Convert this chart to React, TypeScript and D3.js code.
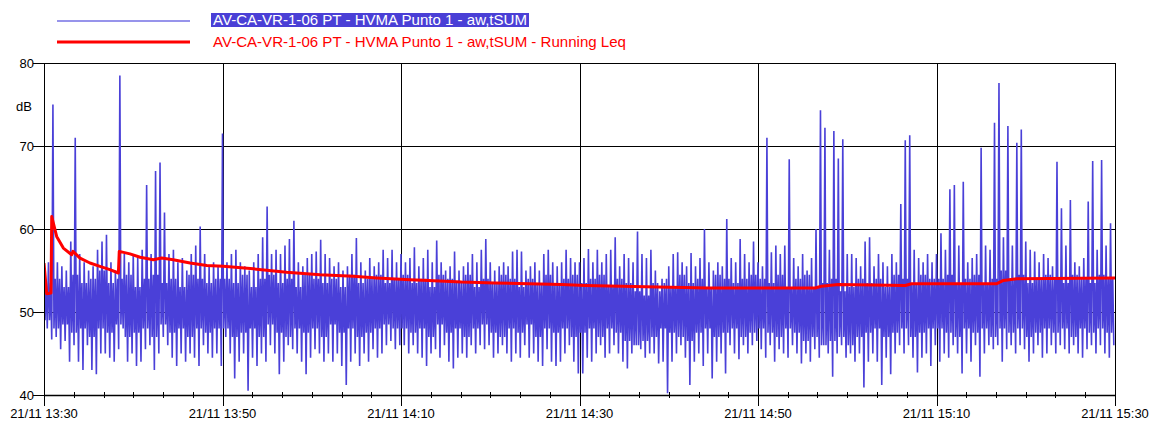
import React from 'react';
import * as d3 from 'd3';

// measurement start, one slot every 30 s
const startTime = new Date(2021, 10, 21, 13, 30, 0);
const slotSeconds = 30;

const seriesNames = [
  'AV-CA-VR-1-06 PT - HVMA Punto 1 - aw,tSUM',
  'AV-CA-VR-1-06 PT - HVMA Punto 1 - aw,tSUM - Running Leq',
];

// highest value in each 30 s slot (dB)
const peakValues = [
  57, 56, 75, 56, 55.5, 55, 58.5, 71, 57, 56,
  55, 55.5, 57.5, 58.5, 59.3, 56, 55, 78.5, 57, 56,
  57, 56.5, 57.5, 65.3, 57, 67, 68, 62, 57, 57.5,
  56, 56.5, 55, 57, 58, 60.3, 57, 55.5, 56, 55.5,
  71.5, 56, 57, 57.5, 56, 55.5, 55, 56, 57, 59,
  62.7, 57, 57.5, 57, 58, 58.8, 61, 56, 55.5, 56.5,
  57, 57.3, 58.7, 57, 56.5, 55.5, 56, 55, 55.5, 57,
  58.9, 56, 55, 56.5, 55.5, 56, 57.5, 56.5, 57.5, 56,
  57, 56, 56.5, 57.8, 55.5, 56.5, 57.5, 56, 58.6, 56,
  55, 55.5, 57.3, 55, 55.5, 56, 57, 56, 57.5, 58.8,
  56, 55, 55.5, 56, 55.5, 57.3, 57.5, 57.3, 55, 55.5,
  56, 55, 57, 57.5, 56, 55.5, 56, 57.5, 56.5, 56,
  56, 56.5, 57.6, 56, 57.5, 56, 57, 57.5, 59, 55.5,
  57, 56.5, 56, 59.7, 57, 56.5, 57.5, 55, 52.5, 53.5,
  55.5, 57, 57.2, 56, 55.5, 57.1, 55.5, 56.5, 60, 56,
  55, 56, 55.5, 61.2, 56.5, 56, 58.8, 57, 56, 58.5,
  56, 55.5, 71, 57.2, 58, 57, 58, 68.4, 56.5, 55.5,
  57, 55, 56.5, 60, 74.3, 72.2, 57.5, 71.8, 68.5, 70.8,
  57, 57, 56.5, 55.5, 58.5, 59, 55.5, 57, 56, 55.5,
  57, 56, 63, 70.7, 71.3, 57.5, 56.5, 56, 57, 56,
  57, 59.5, 57.5, 64.8, 65.3, 58, 65.7, 56, 56.5, 57,
  69.8, 58, 57.5, 72.8, 77.6, 59, 72.4, 58, 70.4, 72,
  58.5, 57.5, 57.3, 56, 57, 56.5, 55.5, 68.1, 62.5, 58,
  63.5, 56, 55.5, 56.5, 63.3, 68.2, 57.5, 68.3, 58, 60.7,
];

// lowest value in each 30 s slot (dB)
const troughValues = [
  48, 46.7, 47, 45.5, 46.5, 44, 46, 44, 43, 46,
  43, 42.5, 45, 45, 44.5, 44, 45.5, 48, 44, 45,
  43.5, 44, 45.5, 46, 43, 45, 47, 46, 44.5, 43.5,
  45, 44, 45, 44.5, 43.5, 46, 45, 44.5, 45, 43.5,
  47, 45, 42, 44, 45, 40.5, 44.5, 43.5, 45, 44,
  46, 45, 42.5, 44, 46, 45.5, 45, 44, 42.5, 44.5,
  45.5, 45, 44, 45, 44, 45, 43.5, 41.2, 44, 45,
  43.5, 45, 44, 45.5, 44.5, 45, 46, 46.5, 45.5, 46,
  46, 45, 46, 45, 44.5, 43.5, 45, 45.5, 44.5, 46,
  44, 43.2, 44.5, 45, 44.5, 46, 45, 46, 45.5, 46,
  44.5, 45, 46, 45, 44, 45, 44.5, 46, 44.5, 45,
  44, 43.5, 45.5, 44, 43.5, 44, 45, 46, 44, 42.6,
  42.6, 44.5, 44, 45, 46, 44.5, 45, 46, 45, 44,
  43.2, 45, 46, 45.5, 44.5, 45, 45, 43.8, 44, 40.2,
  44, 45, 46, 44.5, 41.2, 44, 45, 43.5, 45, 42,
  44, 45, 42.6, 46, 45, 44.3, 46, 45, 46, 46.5,
  45.5, 44.5, 46, 44, 45.5, 45, 44.5, 46, 45, 43.8,
  45, 44, 45.5, 44.5, 46, 45, 42.2, 45, 46, 44.5,
  45, 44, 45, 40.9, 44, 45, 44, 41.2, 44.5, 42.5,
  45, 46, 45, 46, 44.5, 42.7, 44.5, 45, 43.5, 46,
  44, 45, 44.5, 46, 45, 42.6, 45, 44, 46, 42.2,
  45, 46, 45.5, 46, 44, 45.5, 46, 45, 46, 45.5,
  44, 45, 46, 44.5, 45, 46, 45, 46, 45.5, 45,
  46, 45, 44.5, 45.5, 46, 45, 46, 45, 44.5, 46,
];

// upper and lower edge of the dense part of the trace, per minute (dB)
const innerHigh = [
  53.5, 54, 53, 54.5, 53.5, 54, 55, 53.5, 54, 54.5, 53, 54, 54.5, 53.5, 54, 53, 54.5, 54, 53.5, 54,
  54, 53.5, 54.5, 53, 54, 54.5, 53.5, 54, 53, 54.5, 54, 53.5, 54, 53, 54.5, 53.5, 54, 54.5, 53.5, 54,
  54.5, 53.5, 54, 53, 54.5, 54, 53.5, 54.5, 53, 54, 53.5, 54.5, 54, 53, 54, 53.5, 54.5, 53.5, 54, 54.5,
  53.5, 54, 54.5, 53, 54, 53.5, 52.5, 52, 53.5, 54, 53, 54.5, 53.5, 54, 53, 54.5, 54, 53.5, 54, 54.5,
  54, 53.5, 54.5, 53, 54, 54.5, 53, 53.5, 54, 52.5, 53, 54, 53.5, 54, 53, 54.5, 54, 53.5, 54.5, 54,
  54, 54.5, 53.5, 54, 54.5, 53.5, 54, 55, 54, 54.5, 53.5, 54, 54.5, 54, 53.5, 54.5, 54, 53.5, 54.5, 54,
];
const innerLow = [
  49, 48, 48.5, 47.5, 48, 47, 48, 47.5, 48.5, 47, 47.5, 48, 47, 48.5, 47.5, 48, 47, 48, 47.5, 48,
  48, 47, 47.5, 48, 47, 48.5, 47.5, 47, 48, 47.5, 48, 47, 48.5, 47.5, 48, 47, 47.5, 48, 48.5, 48,
  48, 47.5, 48, 47, 48.5, 47.5, 48, 47, 48, 48.5, 47.5, 47, 48, 47.5, 48.5, 47, 48, 47.5, 48, 47,
  47.5, 48, 47, 48, 47.5, 46.5, 46, 46.5, 47, 48, 47.5, 47, 46.5, 47.5, 48, 47, 47.5, 48, 47, 47.5,
  48, 47.5, 47, 48, 47.5, 46.5, 47, 46, 46.5, 47, 46, 47, 47.5, 48, 47, 47.5, 48, 47, 47.5, 48,
  48, 47.5, 47, 48, 47.5, 48, 47, 48, 47.5, 48, 47, 47.5, 48, 47.5, 48, 47, 48, 47.5, 48, 47.5,
];

// running Leq, minutes after start and dB
const leqMinutes = [
  0, 0.3, 0.78, 0.86, 1.42, 2.16, 3.1, 3.25, 4.03, 5.15,
  6.27, 7.39, 8.33, 8.44, 9.64, 10.76, 12.25, 13.19, 14.49, 16.36,
  18.23, 20.09, 23.45, 27.19, 30.92, 34.66, 37.28, 41.0, 43.06, 46.8,
  50.5, 54.3, 58.0, 60.6, 68.8, 74.4, 80.8, 86.4, 87.1, 89.0,
  96.5, 97.2, 101.0, 106.7, 107.5, 109.0, 120,
];
const leqValues = [
  55.9, 52.2, 52.3, 61.5, 59.1, 57.7, 56.9, 57.3, 56.5, 55.9,
  55.5, 55.1, 54.7, 57.3, 57.0, 56.6, 56.3, 56.5, 56.3, 55.9,
  55.6, 55.5, 55.2, 54.8, 54.5, 54.3, 54.1, 53.9, 53.8, 53.6,
  53.5, 53.4, 53.3, 53.2, 53.0, 52.9, 52.9, 52.9, 53.1, 53.3,
  53.2, 53.4, 53.4, 53.4, 53.8, 54.0, 54.1,
];

const yTickValues = [40, 50, 60, 70, 80];
const yGridValues = [50, 60, 70];
const majorTickMinutes = [0, 20, 40, 60, 80, 100, 120];

const blue = '#4a40d8';
const font = '"Liberation Sans", Arial, sans-serif';

type Pt = { t: Date; v: number };

export default function App() {
  const left = 44;
  const right = 1115;
  const top = 63;
  const bottom = 395;

  const endTime = d3.timeMinute.offset(startTime, 120);
  const x = d3.scaleTime().domain([startTime, endTime]).range([left, right]);
  const y = d3.scaleLinear().domain([40, 80]).range([bottom, top]);
  const fmt = d3.timeFormat('%d/%m %H:%M');
  const crisp = (v: number) => Math.round(v) + 0.5;
  const at = (s: number) => d3.timeSecond.offset(startTime, s);

  // each slot: peak, inner low, inner high, trough
  const rawPoints: Pt[] = [];
  peakValues.forEach((p, i) => {
    const s = i * slotSeconds;
    const m = Math.floor(i / 2);
    rawPoints.push({ t: at(s), v: p });
    rawPoints.push({ t: at(s + 7.5), v: innerLow[m] });
    rawPoints.push({ t: at(s + 15), v: innerHigh[m] });
    rawPoints.push({ t: at(s + 22.5), v: troughValues[i] });
  });
  const line = d3
    .line<Pt>()
    .x((d) => x(d.t))
    .y((d) => y(d.v));

  const leqPoints = leqMinutes.map((m, i) => ({ t: at(Math.round(m * 60)), v: leqValues[i] }));

  const majorTicks = majorTickMinutes.map((m) => d3.timeMinute.offset(startTime, m));
  const minorTicks = d3
    .range(0, 7201, 200)
    .filter((s) => s % 1200 !== 0)
    .map((s) => at(s));

  return (
    <div style={{ position: 'absolute', left: 0, top: 0 }}>
      <svg width={1162} height={424} style={{ display: 'block', background: '#fff' }} fontFamily={font}>
        <defs>
          <clipPath id="plot-clip">
            <rect x={left} y={top} width={right - left} height={bottom - top} />
          </clipPath>
        </defs>

        {/* legend */}
        <line x1={57} x2={190} y1={21} y2={21} stroke="#7470e4" strokeWidth={1.5} />
        <rect x={211} y={13} width={318} height={14} fill="#4a3fd6" />
        <text x={213} y={25} fontSize={14.5} fill="#fff" textLength={314} lengthAdjust="spacingAndGlyphs">
          {seriesNames[0]}
        </text>
        <line x1={57} x2={190} y1={42} y2={42} stroke="#ff0000" strokeWidth={3} />
        <text x={213} y={46.5} fontSize={14.5} fill="#ff0000" textLength={413} lengthAdjust="spacingAndGlyphs">
          {seriesNames[1]}
        </text>

        {/* grid */}
        {majorTicks.map((d, i) => (
          <line key={'vg' + i} x1={crisp(x(d))} x2={crisp(x(d))} y1={top} y2={bottom + 11} stroke="#000" />
        ))}
        {yGridValues.map((v) => (
          <line key={'hg' + v} x1={left} x2={right} y1={crisp(y(v))} y2={crisp(y(v))} stroke="#000" />
        ))}

        {/* series */}
        <g clipPath="url(#plot-clip)">
          <path d={line(rawPoints) ?? ''} fill="none" stroke={blue} strokeWidth={1.6} strokeLinejoin="bevel" />
          <path d={line(leqPoints) ?? ''} fill="none" stroke="#ff0000" strokeWidth={3} strokeLinejoin="round" />
        </g>

        {/* frame */}
        <line x1={crisp(left)} x2={crisp(left)} y1={top} y2={bottom + 11} stroke="#000" />
        <line x1={crisp(right)} x2={crisp(right)} y1={top} y2={bottom + 11} stroke="#000" />
        <line x1={left} x2={right} y1={crisp(top)} y2={crisp(top)} stroke="#000" />
        <line x1={left} x2={right} y1={crisp(bottom)} y2={crisp(bottom)} stroke="#000" strokeWidth={1.5} />

        {/* x axis */}
        {minorTicks.map((d, i) => (
          <line key={'mt' + i} x1={crisp(x(d))} x2={crisp(x(d))} y1={bottom - 3} y2={bottom + 3} stroke="#000" />
        ))}
        {majorTicks.map((d, i) => (
          <text key={'xl' + i} x={x(d)} y={418} fontSize={13} textAnchor="middle" fill="#000">
            {fmt(d)}
          </text>
        ))}

        {/* y axis */}
        {yTickValues.map((v) => (
          <g key={'yt' + v}>
            <line x1={left - 11} x2={left} y1={crisp(y(v))} y2={crisp(y(v))} stroke="#000" />
            <text x={left - 10} y={y(v)} dy="0.36em" fontSize={13} textAnchor="end" fill="#000">
              {v}
            </text>
          </g>
        ))}
        <text x={16} y={111} fontSize={13} fill="#000">
          dB
        </text>
      </svg>
    </div>
  );
}
